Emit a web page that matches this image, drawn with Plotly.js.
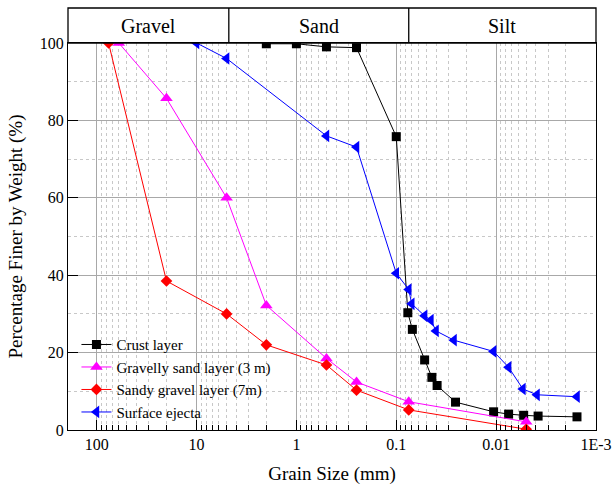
<!DOCTYPE html>
<html>
<head>
<meta charset="utf-8">
<script src="https://cdn.plot.ly/plotly-3.0.1.min.js"></script>
<style>html,body{margin:0;padding:0;background:#fff;}</style>
</head>
<body>
<div id="chart"></div>
<script>
// Data
var crustX = [2, 1, 0.5, 0.25, 0.1, 0.0766, 0.069, 0.052, 0.044, 0.039, 0.0255, 0.0106, 0.0075, 0.0053, 0.0038, 0.00155];
var crustY = [99.8, 99.8, 99.0, 98.8, 75.8, 30.3, 26.0, 18.1, 13.6, 11.5, 7.2, 4.7, 4.1, 3.8, 3.6, 3.4];

var gravSandX = [60, 20, 5, 2, 0.5, 0.25, 0.075, 0.005];
var gravSandY = [100, 85.7, 60, 32.2, 18.5, 12.4, 7.3, 2.1];

var sandyGravX = [76, 20, 5, 2, 0.5, 0.25, 0.075, 0.005];
var sandyGravY = [100, 38.5, 30, 22, 16.8, 10.3, 5.2, 0.2];

var ejectaX = [10, 5, 0.5, 0.25, 0.1, 0.075, 0.07, 0.052, 0.045, 0.04, 0.0264, 0.0106, 0.0075, 0.0054, 0.0039, 0.00155];
var ejectaY = [100, 96, 76, 73.1, 40.5, 36.3, 32.6, 29.5, 28.4, 25.6, 23.2, 20.3, 16.2, 10.6, 9.1, 8.6];

var seriesNames = ['Crust layer', 'Gravelly sand layer (3 m)', 'Sandy gravel layer (7m)', 'Surface ejecta'];
var xTickVals = [100, 10, 1, 0.1, 0.01, 0.001];
var xTickText = ['100', '10', '1', '0.1', '0.01', '1E-3'];
var zoneNames = ['Gravel', 'Sand', 'Silt'];
var zoneBounds = [4.75, 0.075]; // mm

(function () {
  var FONT = 'Times New Roman';

  var minorVals = [];
  for (var e = 2; e >= -3; e--) {
    for (var d = 2; d <= 9; d++) minorVals.push(d * Math.pow(10, e - 1));
  }

  var traces = [
    {x: crustX, y: crustY, name: seriesNames[0], mode: 'lines+markers',
     line: {color: '#000000', width: 1}, marker: {symbol: 'square', size: 9, color: '#000000'}},
    {x: gravSandX, y: gravSandY, name: seriesNames[1], mode: 'lines+markers',
     line: {color: '#ff00ff', width: 1}, marker: {symbol: 'triangle-up', size: 11, color: '#ff00ff'}},
    {x: sandyGravX, y: sandyGravY, name: seriesNames[2], mode: 'lines+markers',
     line: {color: '#ff0000', width: 1}, marker: {symbol: 'diamond', size: 9, color: '#ff0000'}},
    {x: ejectaX, y: ejectaY, name: seriesNames[3], mode: 'lines+markers',
     line: {color: '#0000ff', width: 1}, marker: {symbol: 'triangle-left', size: 11, color: '#0000ff'}}
  ];

  var xL = 2.287, xR = -3;
  function toPaper(v) { return (xL - Math.log10(v)) / (xL - xR); }
  var lb = [0, toPaper(zoneBounds[0]), toPaper(zoneBounds[1]), 1];
  var bandTop = 1 + 35 / 387;
  var shapes = [
    {type: 'rect', xref: 'paper', yref: 'paper', x0: 0, x1: 1, y0: 1, y1: bandTop, line: {color: '#000', width: 1.3}},
    {type: 'line', xref: 'paper', yref: 'paper', x0: lb[1], x1: lb[1], y0: 1, y1: bandTop, line: {color: '#000', width: 1.3}},
    {type: 'line', xref: 'paper', yref: 'paper', x0: lb[2], x1: lb[2], y0: 1, y1: bandTop, line: {color: '#000', width: 1.3}}
  ];
  var annotations = zoneNames.map(function (n, i) {
    return {text: n, xref: 'paper', yref: 'paper', x: (lb[i] + lb[i + 1]) / 2, y: (1 + bandTop) / 2,
      xanchor: 'center', yanchor: 'middle', showarrow: false, font: {family: FONT, size: 20, color: '#000'}};
  });

  var layout = {
    width: 616, height: 488,
    margin: {l: 68, r: 20, t: 43, b: 58},
    paper_bgcolor: '#fff', plot_bgcolor: '#fff',
    font: {family: FONT, color: '#000', size: 16},
    showlegend: true,
    legend: {x: 0.016, y: 0.263, xanchor: 'left', yanchor: 'top', bgcolor: 'rgba(0,0,0,0)',
      font: {family: FONT, size: 15, color: '#000'}, tracegroupgap: 0, itemwidth: 30},
    xaxis: {
      type: 'log', range: [xL, xR], autorange: false,
      tickmode: 'array', tickvals: xTickVals, ticktext: xTickText,
      ticks: 'inside', ticklen: 10, tickwidth: 1, tickcolor: '#000',
      showline: true, linecolor: '#000', linewidth: 1.3, mirror: true,
      showgrid: true, gridcolor: '#a8a8a8', gridwidth: 1,
      zeroline: false,
      tickfont: {family: FONT, size: 16, color: '#000'},
      minor: {tickmode: 'array', tickvals: minorVals, ticks: 'inside', ticklen: 5, tickcolor: '#000',
        showgrid: true, gridcolor: '#c8c8c8', griddash: 'dot', gridwidth: 1},
      title: {text: 'Grain Size (mm)', font: {family: FONT, size: 19, color: '#000'}, standoff: 14}
    },
    yaxis: {
      range: [0, 100], autorange: false, dtick: 20, tick0: 0,
      ticks: 'inside', ticklen: 10, tickwidth: 1, tickcolor: '#000',
      showline: true, linecolor: '#000', linewidth: 1.3, mirror: true,
      showgrid: true, gridcolor: '#a8a8a8', gridwidth: 1,
      zeroline: false,
      tickfont: {family: FONT, size: 16, color: '#000'},
      minor: {dtick: 10, ticks: '', showgrid: true, gridcolor: '#c8c8c8', griddash: 'dot', gridwidth: 1},
      title: {text: 'Percentage Finer by Weight (%)', font: {family: FONT, size: 19, color: '#000'}, standoff: 12}
    },
    shapes: shapes,
    annotations: annotations
  };

  var cfg = {displayModeBar: false};
  Plotly.newPlot('chart', traces, layout, cfg);
})();
</script>
</body>
</html>
